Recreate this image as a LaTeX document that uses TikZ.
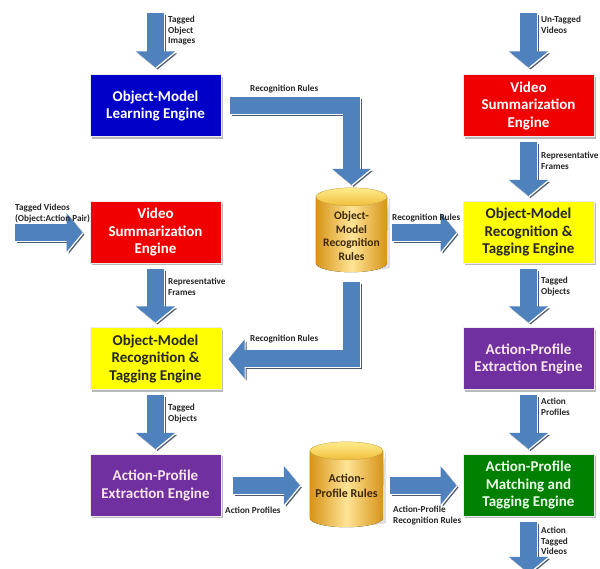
\documentclass[tikz,border=0pt]{standalone}
\usepackage{fontspec}
\setmainfont{Carlito}
\usetikzlibrary{arrows.meta,calc,shadows}
\pgfdeclarelayer{background}
\pgfsetlayers{background,main}
\definecolor{arrowblue}{RGB}{79,129,189}
\definecolor{arrowdark}{RGB}{80,90,110}
\definecolor{boxblue}{RGB}{0,0,200}
\definecolor{boxred}{RGB}{240,0,0}
\definecolor{boxyellow}{RGB}{255,255,0}
\definecolor{boxpurple}{RGB}{112,48,160}
\definecolor{boxgreen}{RGB}{0,128,0}
\definecolor{goldedge}{RGB}{214,148,22}
\definecolor{goldmid}{RGB}{255,228,150}
\definecolor{goldtopa}{RGB}{255,236,140}
\definecolor{goldtopb}{RGB}{240,190,60}
\definecolor{cyltext}{RGB}{60,40,10}
\tikzset{
  engine/.style={rectangle, minimum width=131pt, minimum height=62pt, inner sep=2pt,
    align=center, font=\fontsize{15}{17.5}\selectfont\bfseries, draw=gray!15, line width=1pt,
    drop shadow={shadow xshift=1.6pt, shadow yshift=-1.6pt, fill=gray!55, opacity=1}},
  cylnode/.style={rectangle, inner sep=0pt, align=center, text=cyltext},
  lbl/.style={font=\fontsize{9.2}{10.5}\selectfont\bfseries, align=left, inner sep=0pt,
    anchor=north west, text=black!85},
  flow/.style={line width=17pt, line join=miter, -{Triangle[length=16pt,width=38pt]}},
}
\newcommand\blockarrow[1]{%
  \draw[flow, arrowdark, transform canvas={shift={(2pt,-2pt)}}] #1;
  \draw[flow, white, transform canvas={shift={(1pt,-1pt)}}] #1;
  \draw[flow, arrowblue] #1;}
\newcommand\cylshape[2]{% name, half width
  \begin{pgfonlayer}{background}
  \fill[gray!25] ([xshift=3pt,yshift=-6pt]#1.north east) -- ([xshift=3pt,yshift=4pt]#1.south east)
    -- ([xshift=-10pt,yshift=2pt]#1.south east) -- cycle;
  \fill[left color=goldedge, right color=goldedge, middle color=goldmid]
    ([yshift=-9pt]#1.north west) -- ([yshift=9pt]#1.south west)
    arc[start angle=180, end angle=360, x radius=#2, y radius=9pt]
    -- ([yshift=-9pt]#1.north east) -- cycle;
  \shade[top color=goldtopa, bottom color=goldtopb, draw=goldtopb!80!black, line width=0.3pt]
    ([yshift=-9pt]#1.north) ellipse[x radius=#2, y radius=9pt];
  \end{pgfonlayer}}
\begin{document}
\begin{tikzpicture}[x=1pt,y=1pt]
\begin{pgfonlayer}{background}
\fill[white] (0,0) rectangle (600,569);
\end{pgfonlayer}
\useasboundingbox (0,0) rectangle (600,569);

% engines
\node[engine, fill=boxblue, text=white] (blue) at (155.5,463) {Object-Model\\Learning Engine};
\node[engine, fill=boxred, text=white] (redR) at (528.5,463) {Video\\Summarization\\Engine};
\node[engine, fill=boxred, text=white] (redL) at (155.5,336.5) {Video\\Summarization\\Engine};
\node[engine, fill=boxyellow, text=black!85] (yelR) at (528.5,336.5) {Object-Model\\Recognition \&\\Tagging Engine};
\node[engine, fill=boxyellow, text=black!85] (yelL) at (155.5,210) {Object-Model\\Recognition \&\\Tagging Engine};
\node[engine, fill=boxpurple, text=white!90!purple] (purR) at (528.5,210) {Action-Profile\\Extraction Engine};
\node[engine, fill=boxpurple, text=white!90!purple] (purL) at (155.5,83.5) {Action-Profile\\Extraction Engine};
\node[engine, fill=boxgreen, text=white!92!green] (green) at (528.5,83.5) {Action-Profile\\Matching and\\Tagging Engine};

% cylinders
\node[cylnode, minimum width=71pt, minimum height=84pt, font=\fontsize{11.5}{13.5}\selectfont\bfseries] (omr) at (351.5,339) {\\[7pt]Object-\\Model\\Recognition\\Rules};
\cylshape{omr}{35.5pt}
\node[cylnode, minimum width=73pt, minimum height=85pt, font=\fontsize{12}{15}\selectfont\bfseries] (apr) at (346.5,84.5) {\\[-3pt]Action-\\Profile Rules};
\cylshape{apr}{36.5pt}

% free ends
\coordinate (inTL) at (155.5,556);
\coordinate (inTR) at (528.5,556);
\coordinate (inTV) at (15,336.5);
\coordinate (outB) at (528.5,-4);

% arrows
\blockarrow{(inTL) -- ([yshift=7pt]blue.north)}
\blockarrow{(inTR) -- ([yshift=7pt]redR.north)}
\blockarrow{([yshift=-5pt]redR.south) -- ([yshift=5pt]yelR.north)}
\blockarrow{([yshift=-5pt]yelR.south) -- ([yshift=5pt]purR.north)}
\blockarrow{([yshift=-5pt]purR.south) -- ([yshift=5pt]green.north)}
\blockarrow{([yshift=-5pt]green.south) -- (outB)}
\blockarrow{([yshift=-5pt]redL.south) -- ([yshift=5pt]yelL.north)}
\blockarrow{([yshift=-5pt]yelL.south) -- ([yshift=5pt]purL.north)}
\blockarrow{(inTV) -- ([xshift=-7pt]redL.west)}
\blockarrow{($(omr.east |- yelR.west)+(5,0)$) -- ([xshift=-6pt]yelR.west)}
\blockarrow{([xshift=11pt]purL.east) -- ($(apr.west |- purL.east)+(-10,0)$)}
\blockarrow{($(apr.east |- green.west)+(7,0)$) -- ([xshift=-6pt]green.west)}
\blockarrow{([xshift=8pt]blue.east) -| ([yshift=3pt]omr.north)}
\blockarrow{([yshift=-10pt]omr.south) |- ([xshift=7pt]yelL.east)}

% labels
\node[lbl] (l1) at (168,553) {Tagged\\Object\\Images};
\node[lbl] (l2) at (250,484) {Recognition Rules};
\node[lbl] (l3) at (541,553) {Un-Tagged\\Videos};
\node[lbl] (l4) at (541,417) {Representative\\Frames};
\node[lbl] (l5) at (15,365) {Tagged Videos\\(Object:Action Pair)};
\node[lbl] (l6) at (392,355) {Recognition Rules};
\node[lbl] (l7) at (168,291) {Representative\\Frames};
\node[lbl] (l8) at (541,292) {Tagged\\Objects};
\node[lbl] (l9) at (250,234) {Recognition Rules};
\node[lbl] (l10) at (168,165) {Tagged\\Objects};
\node[lbl] (l11) at (541,171) {Action\\Profiles};
\node[lbl] (l12) at (225,62) {Action Profiles};
\node[lbl] (l13) at (393,63) {Action-Profile\\Recognition Rules};
\node[lbl] (l14) at (541,42) {Action\\Tagged\\Videos};
\end{tikzpicture}
\end{document}
